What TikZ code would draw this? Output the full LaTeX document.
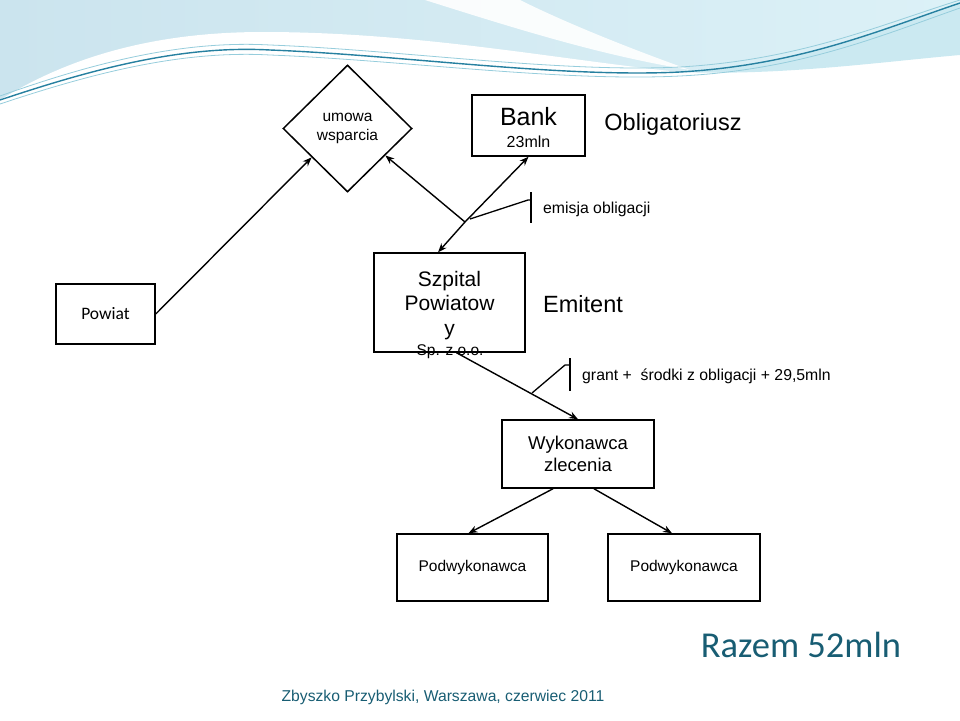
\documentclass[tikz,border=0pt]{standalone}
\usepackage{fontspec}
\setmainfont{Liberation Sans}
\newfontfamily\calibri{Carlito}
\usetikzlibrary{shapes.geometric,arrows.meta,calc}
\definecolor{tealtxt}{RGB}{24,93,115}
\definecolor{bgleft}{RGB}{203,228,238}
\definecolor{bgright}{RGB}{220,241,247}
\definecolor{waveline}{RGB}{38,128,160}
\definecolor{wavelight}{RGB}{150,205,220}
\definecolor{bandcyan}{RGB}{190,228,238}
\begin{document}
\begin{tikzpicture}[x=1pt,y=-1pt,
  box/.style={draw, line width=1.5pt, inner sep=0pt, align=center},
  conn/.style={line width=1.4pt, -{Stealth[length=9pt,width=7pt]}},
  plain/.style={line width=1.3pt},
  fs/.style 2 args={font=\fontsize{#1}{#2}\selectfont}]
\useasboundingbox (0,0) rectangle (960,720);
% ---------- background wave ----------
\shade[left color=bgleft, right color=bgright]
  (0,0) -- (960,0) -- (960,3)
  .. controls (880,30) and (800,65) .. (680,72)
  .. controls (560,78) and (400,55) .. (270,50)
  .. controls (180,45) and (90,70) .. (0,100) -- cycle;
\fill[white]
  (0,100) .. controls (80,50) and (170,32) .. (263,32)
  .. controls (420,32) and (560,60) .. (680,72)
  .. controls (560,78) and (400,55) .. (270,50)
  .. controls (180,45) and (90,70) .. (0,100) -- cycle;
\fill[white, opacity=0.9]
  (425,0) .. controls (520,30) and (600,55) .. (690,70)
  .. controls (620,45) and (560,20) .. (520,0) -- cycle;
\fill[bandcyan, opacity=0.8]
  (680,72) .. controls (800,65) and (880,30) .. (960,3)
  -- (960,55) .. controls (880,62) and (780,76) .. (680,72) -- cycle;
\draw[wavelight, line width=0.8pt]
  (0,96) .. controls (90,64) and (180,40) .. (270,45)
  .. controls (400,50) and (560,73) .. (680,67)
  .. controls (800,60) and (880,25) .. (960,0);
\draw[wavelight, line width=0.8pt]
  (0,104) .. controls (90,74) and (180,50) .. (270,55)
  .. controls (400,60) and (560,82) .. (680,76)
  .. controls (800,70) and (880,36) .. (960,8);
\draw[waveline, line width=1.4pt]
  (0,100) .. controls (90,70) and (180,45) .. (270,50)
  .. controls (400,55) and (560,78) .. (680,72)
  .. controls (800,65) and (880,30) .. (960,3);
% ---------- nodes ----------
\node[draw, line width=1.5pt, diamond, aspect=1, minimum width=129pt, minimum height=127pt,
      inner sep=0pt, align=center, fs={15.5}{19}] (um) at (347.5,128.5) {umowa\\wsparcia};
\node[box, minimum width=113pt, minimum height=61pt] (bank) at (528.5,125.5) {};
\node[fs={25}{28}] (banktxt) at (528.5,117) {Bank};
\node[fs={16}{18}] (bankmln) at (528.5,142) {23mln};
\node[fs={23.5}{26}] (oblig) at (673,124) {Obligatoriusz};
\node[box, minimum width=99pt, minimum height=60pt, font=\calibri\fontsize{17.5}{20}\selectfont] (pw) at (105.5,314) {Powiat};
\node[box, minimum width=151pt, minimum height=99pt] (sz) at (449.5,302.5) {};
\node[align=center, fs={21}{24.5}] (sztxt) at (449.5,305.5) {Szpital\\Powiatow\\y};
\node[fs={15.5}{18}] (spzoo) at (450,352) {Sp. z o.o.};
\node[anchor=west, inner sep=0pt, fs={23.5}{26}] (emit) at (543,304) {Emitent};
\node[anchor=west, inner sep=0pt, fs={15.8}{18}] (emis) at (543,209) {emisja obligacji};
\node[anchor=west, inner sep=0pt, fs={15.8}{18}] (grant) at (582,376) {grant +\ \ środki z obligacji + 29,5mln};
\node[box, minimum width=152pt, minimum height=68pt, fs={18.5}{22}] (wk) at (578,454) {Wykonawca\\zlecenia};
\node[box, minimum width=151pt, minimum height=67pt, fs={15.5}{18}] (pd1) at (472.5,567.5) {Podwykonawca};
\node[box, minimum width=152pt, minimum height=67pt, fs={15.5}{18}] (pd2) at (684,567.5) {Podwykonawca};
\node[text=tealtxt, font=\calibri\fontsize{36.5}{40}\selectfont] (razem) at (801,645) {Razem 52mln};
\node[text=tealtxt, fs={15.7}{18}] (foot) at (443,697) {Zbyszko Przybylski, Warszawa, czerwiec 2011};
% ---------- connectors ----------
\coordinate (J) at (465,222);
\draw[conn] (pw.east) -- ($(um.west)!0.45!(um.south)$);
\draw[conn] (J) -- ($(um.south)!0.58!(um.east)$);
\draw[conn] (J) -- (bank.south);
\draw[conn] (J) -- ($(sz.north west)!0.425!(sz.north east)$);
\draw[conn] ($(sz.south)+(7,0)$) -- (wk.north);
\draw[conn] ($(wk.south)+(-25,0)$) -- ($(pd1.north)+(-4,0)$);
\draw[conn] ($(wk.south)+(16,0)$) -- ($(pd2.north)+(-12,0)$);
% ---------- callouts ----------
\coordinate (c1a) at (470,219);
\coordinate (c1b) at (528,200);
\coordinate (c1c) at (531,200);
\draw[plain] (c1a) -- (c1b) -- (c1c);
\draw[plain] (531,192) -- (531,223);
\coordinate (c2a) at (532,393);
\coordinate (c2b) at (565,365);
\coordinate (c2c) at (570,365);
\draw[plain] (c2a) -- (c2b) -- (c2c);
\draw[plain] (570,358) -- (570,391);
\end{tikzpicture}
\end{document}
